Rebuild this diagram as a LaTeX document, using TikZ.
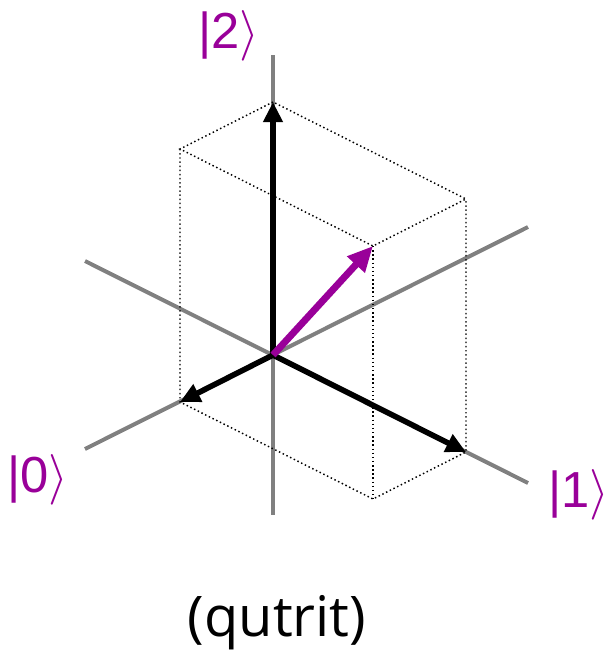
\RequirePackage{fix-cm}
\documentclass[tikz,border=0pt]{standalone}
\usepackage{fontspec}
\setmainfont{Liberation Sans}
\newfontfamily\captionfont{Open Sans}
\usetikzlibrary{arrows.meta}
\definecolor{ketpurple}{RGB}{153,0,153}
\definecolor{axisgray}{RGB}{128,128,128}

\begin{document}
\begin{tikzpicture}[
  x=0.75pt, y=-0.75pt,
  axis/.style={draw=axisgray, line width=3pt},
  edgebox/.style={line width=1.1pt, dash pattern=on 1.1pt off 2pt},
  basis/.style={line width=4.2pt, -{Triangle[length=15pt, width=14pt]}},
  state/.style={draw=ketpurple, line width=5.2pt, -{Triangle[length=19pt, width=17pt]}},
  ket/.style={text=ketpurple, inner sep=0pt, font=\fontsize{38}{42}\selectfont}
]
\useasboundingbox (0,0) rectangle (611,658);

% corners of the box
\coordinate (o) at (273,355);
\coordinate (e0) at (180,402);
\coordinate (e1) at (466,452);
\coordinate (e2) at (273,102);
\coordinate (e01) at (373,499);
\coordinate (e02) at (180,149);
\coordinate (e12) at (466,199);
\coordinate (psi) at (373,246);

% axis ends
\coordinate (v top) at (273,55);
\coordinate (v bot) at (273,515);
\coordinate (a0 lo) at (85,449);
\coordinate (a0 hi) at (528,227);
\coordinate (a1 hi) at (85,261);
\coordinate (a1 lo) at (528,483);

\draw[axis] (v top) -- (v bot);
\draw[axis] (a0 lo) -- (a0 hi);
\draw[axis] (a1 hi) -- (a1 lo);

\draw[edgebox] (e2) -- (e02) -- (psi) -- (e12) -- cycle;
\draw[edgebox] (e02) -- (e0) -- (e01) -- (e1) -- (e12);
\draw[edgebox] (psi) -- (e01);

\draw[basis] (o) -- (e2);
\draw[basis] (o) -- (e0);
\draw[basis] (o) -- (e1);
\draw[state] (o) -- (psi);

\node[ket] (k2) at (229,36) {|2$\rangle$};
\node[ket] (k0) at (38,480) {|0$\rangle$};
\node[ket] (k1) at (579,495) {|1$\rangle$};
\node[font=\captionfont\fontsize{42}{46}\selectfont, inner sep=0pt] (cap) at (277,623) {(qutrit)};
\end{tikzpicture}
\end{document}
